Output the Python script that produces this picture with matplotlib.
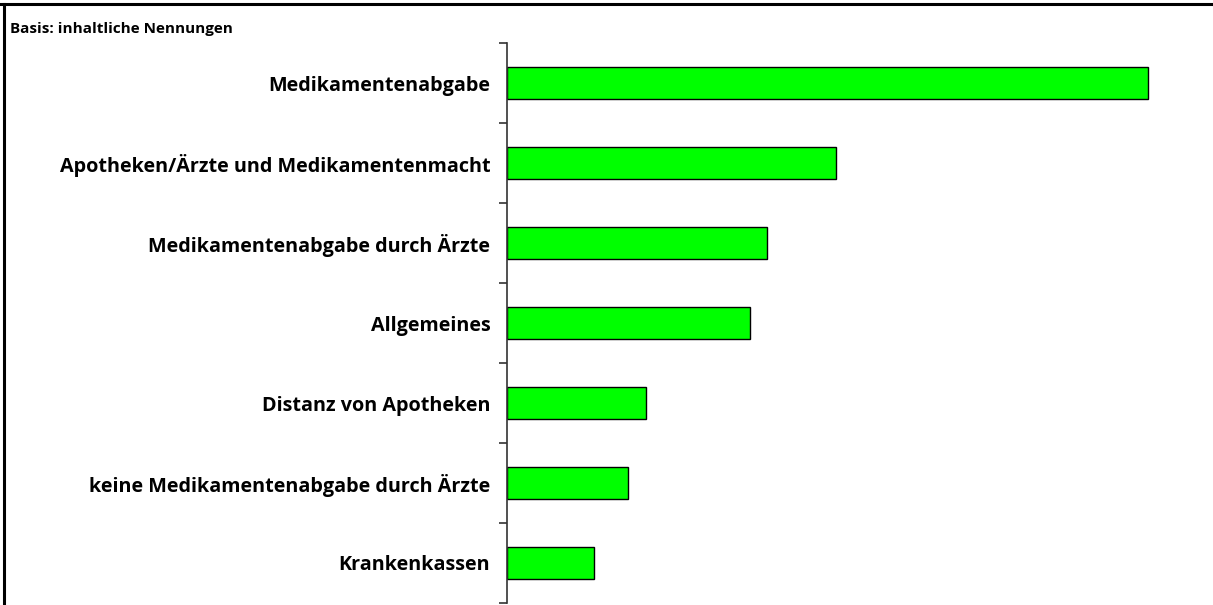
import matplotlib.pyplot as plt
from matplotlib.lines import Line2D

plt.rcParams["font.family"] = ["Open Sans", "DejaVu Sans"]

categories = [
    "Medikamentenabgabe",
    "Apotheken/Ärzte und Medikamentenmacht",
    "Medikamentenabgabe durch Ärzte",
    "Allgemeines",
    "Distanz von Apotheken",
    "keine Medikamentenabgabe durch Ärzte",
    "Krankenkassen",
]
values = [37, 19, 15, 14, 8, 7, 5]

fig = plt.figure(figsize=(12.13, 6.05), dpi=100)
ax = fig.add_axes([507 / 1213, 2 / 605, 703 / 1213, 560 / 605])

pos = list(range(len(categories)))
ax.barh(pos, values, height=0.41, color="#00ff00", edgecolor="black", linewidth=1)

ax.set_xlim(0, 37 * 703 / 641)
ax.set_ylim(len(categories) - 0.5, -0.5)

ax.set_yticks(pos)
ax.set_yticklabels(categories, fontsize=14.2, fontweight="bold")
ax.tick_params(axis="y", which="major", length=0, pad=12)
ax.set_yticks([p - 0.5 for p in range(len(categories) + 1)], minor=True)
ax.tick_params(axis="y", which="minor", length=6, width=1.2, color="#333333")
ax.set_xticks([])

for s in ["top", "right", "bottom"]:
    ax.spines[s].set_visible(False)
ax.spines["left"].set_color("#333333")
ax.spines["left"].set_linewidth(1.2)

fig.text(10 / 1213, 1 - 29 / 605, "Basis: inhaltliche Nennungen",
         fontsize=11, fontweight="bold", va="center", ha="left")

# frame lines at the top and left edge
fig.add_artist(Line2D([0, 1], [1 - 4 / 605, 1 - 4 / 605], color="black", linewidth=2.2,
                      transform=fig.transFigure))
fig.add_artist(Line2D([4 / 1213, 4 / 1213], [0, 1 - 4 / 605], color="black", linewidth=2.2,
                      transform=fig.transFigure))

fig.savefig("out.png", dpi=100)
